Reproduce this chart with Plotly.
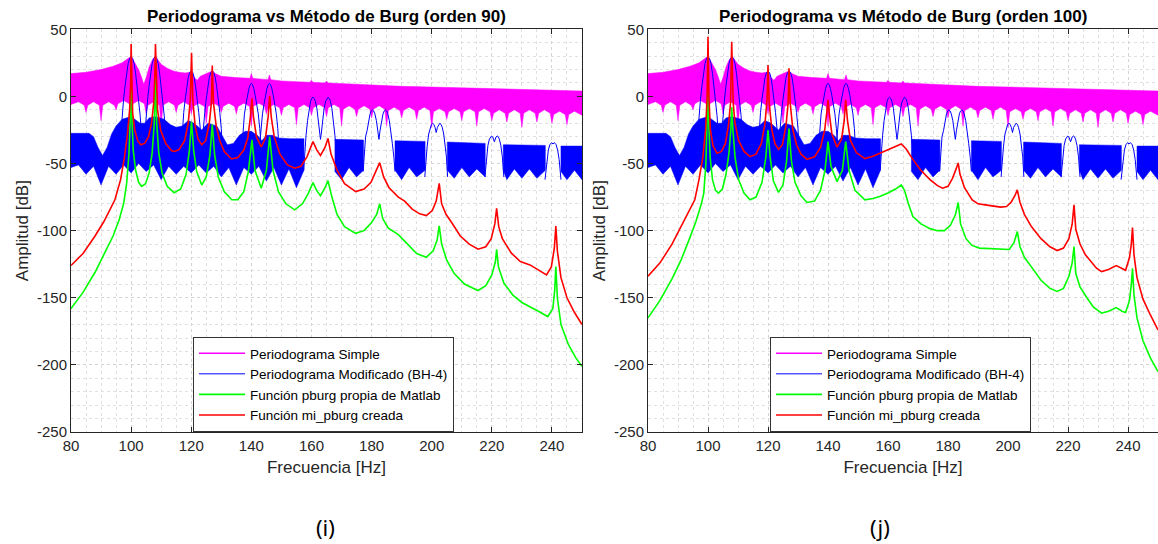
import plotly.graph_objects as go

# ---------------- tick labels ----------------
X_TICKS = [80, 100, 120, 140, 160, 180, 200, 220, 240]
Y_TICKS = [-250, -200, -150, -100, -50, 0, 50]
Y_TICK_TEXT = ["-250", "-200", "-150", "-100", "-50", "0", "50"]

# ---------------- Periodograma Simple (magenta band) ----------------
MAG_HI_F = [80, 85, 90, 94, 97, 99, 100, 101, 102.5, 103.5, 104.2, 105, 106, 107, 108, 109, 110, 112, 114, 116,
            118, 119.5, 120, 121, 122, 123, 125, 127, 128, 130, 135, 139.5, 140, 140.5, 145.5, 146, 146.5, 150, 155, 159.5,
            160, 160.5, 164.5, 165, 165.5, 170, 180, 190, 200, 210, 220, 230, 240, 250]
MAG_HI = [17, 18, 20, 22.5, 25, 28, 30, 26, 20, 14, 9, 14, 22, 27, 30, 27, 24, 21, 19, 18,
          17.5, 18, 19, 14, 12, 15, 17, 19, 17, 15, 14, 13.5, 17, 13.5, 12.5, 16, 12.5, 11.5, 11, 10.5,
          12, 10.5, 10, 11.5, 10, 9.5, 8.5, 7.5, 7, 6.5, 5.5, 5, 4.5, 4]
MAG_LO_F = [80, 82.5,
            84.4, 85, 85.6, 87.5, 89.4, 90, 90.6, 92.5, 94.4, 95, 95.6, 97.5, 99.4, 100, 100.6, 102.5,
            104.4, 105, 105.6, 107.5, 109.4, 110, 110.6, 112.5, 114.4, 115, 115.6, 117.5, 119.4, 120, 120.6, 122.5,
            124.4, 125, 125.6, 127.5, 129.4, 130, 130.6, 132.5, 134.4, 135, 135.6, 137.5, 139.4, 140, 140.6, 142.5,
            144.4, 145, 145.6, 147.5, 149.4, 150, 150.6, 152.5, 154.4, 155, 155.6, 157.5, 159.4, 160, 160.6, 162.5,
            164.4, 165, 165.6, 167.5, 169.4, 170, 170.6, 172.5, 174.4, 175, 175.6, 177.5, 179.4, 180, 180.6, 182.5,
            184.4, 185, 185.6, 187.5, 189.4, 190, 190.6, 192.5, 194.4, 195, 195.6, 197.5, 199.4, 200, 200.6, 202.5,
            204.4, 205, 205.6, 207.5, 209.4, 210, 210.6, 212.5, 214.4, 215, 215.6, 217.5, 219.4, 220, 220.6, 222.5,
            224.4, 225, 225.6, 227.5, 229.4, 230, 230.6, 232.5, 234.4, 235, 235.6, 237.5, 239.4, 240, 240.6, 242.5,
            244.4, 245, 245.6, 247.5, 250]
MAG_LO = [-6, -4,
          -6.5, -12, -6.5, -4, -6.5, -18, -6.5, -4, -6.5, -10, -5.5, -3, -5.5, -12, -5.5, -3,
          -5.5, -13, -6.5, -4, -6.5, -22, -6.5, -4, -6.5, -12, -6.5, -4, -6.5, -13, -7.5, -5,
          -7.5, -20, -7.5, -5, -7.5, -12, -7.5, -5, -7.5, -13, -7.5, -5, -7.5, -22, -7.5, -5,
          -7.5, -13, -8.5, -6, -8.5, -14, -8.5, -6, -8.5, -21, -8.5, -6, -8.5, -14, -8.5, -6,
          -8.5, -15, -8.5, -6, -8.5, -22, -9.5, -7, -9.5, -15, -9.5, -7, -9.5, -16, -9.5, -7,
          -9.5, -22, -10.5, -8, -10.5, -16, -10.5, -8, -10.5, -17, -10.5, -8, -10.5, -23, -11.5, -9,
          -11.5, -17, -11.5, -9, -11.5, -18, -11.5, -9, -11.5, -22, -11.5, -9, -11.5, -18, -12.5, -10,
          -12.5, -19, -12.5, -10, -12.5, -23, -12.5, -10, -12.5, -19, -12.5, -10, -12.5, -20, -13.5, -11,
          -13.5, -21, -13.5, -11, -14]

# ---------------- Periodograma Modificado BH-4 (blue band, segments split by None) ----------------
BLUE_HI_F = [80, 86, 87.5, 89, 90.5, 92, 93.5, 95, 97, 100, 103, 104.5, 106, 108, 111, 113, 115, 117, 119, 121,
             123.5, 125.5, 128.5, 130, 132, 134, 136, 138, 140, 142, 143.5, 145, 147, 149, 153, 157.5, None,
             167.8, 172, 177.3, None,
             187.8, 192, 197.8, None,
             205.2, 212, 217.8, None,
             223.8, 230, 237.8, None,
             243, 250]
BLUE_HI = [-27.5, -27.5, -30, -38, -44, -38, -28, -22, -17, -15, -20, -20, -16, -15, -17, -21, -23, -22, -18, -20,
           -25, -20, -22, -28, -36, -35, -29, -26, -26, -29, -33, -29, -29, -31, -31.5, -31.5, None,
           -32, -32, -32.5, None,
           -33, -33, -33.5, None,
           -34, -34.5, -35, None,
           -36, -36, -36.5, None,
           -37, -37]
BLUE_LO_F = [80, 82.5, 85, 87.5, 90, 92.5, 95, 97.5, 100, 102.5, 105, 107.5, 110, 112.5, 115, 117.5, 120, 122.5,
             125, 127.5, 130, 132.5, 135, 137.5, 140, 142.5, 145, 147.5, 150, 152.5, 155, 157.5, None,
             167.8, 170, 172.5, 175, 177.3, None,
             187.8, 190, 192.5, 195, 197.8, None,
             205.2, 207.5, 210, 212.5, 215, 217.8, None,
             223.8, 225, 227.5, 230, 232.5, 235, 237.8, None,
             243, 245, 247.5, 250]
BLUE_LO = [-53, -51, -58, -52, -66, -52, -58, -51, -57, -50, -56, -51, -62, -52, -58, -52, -57, -51,
           -57, -52, -60, -53, -66, -53, -58, -52, -63, -53, -66, -54, -68, -55, None,
           -56, -62, -53, -60, -55, None,
           -55, -62, -53, -60, -55, None,
           -55, -61, -53, -60, -54, -60, None,
           -55, -62, -54, -61, -54, -61, -55, None,
           -56, -62, -55, -62]

# main lobes of the BH-4 periodogram (outlines, split by None)
LOBE_F = [96.4, 97, 97.5, 98, 98.5, 99, 99.5, 100, 100.5, 101, 101.5, 102, 102.5, 103, 103.6, None,
          104.4, 105, 105.5, 106, 106.5, 107, 107.5, 108, 108.5, 109, 109.5, 110, 110.5, 111, 111.6, None,
          116.6, 117, 117.5, 118, 118.5, 119, 119.5, 120, 120.5, 121, 121.5, 122, 122.5, 123, 123.4, None,
          123.6, 124, 124.5, 125, 125.5, 126, 126.5, 127, 127.5, 128, 128.5, 129, 129.5, 130, 130.4, None,
          136.8, 137.2, 137.7, 138.2, 138.7, 139.2, 139.6, 140, 140.4, 140.8, 141.3, 141.8, 142.3, 142.8, 143.1, None,
          142.9, 143.2, 143.7, 144.2, 144.7, 145.2, 145.6, 146, 146.4, 146.8, 147.3, 147.8, 148.3, 148.8, 149.2, None,
          157.4, 157.8, 158.2, 158.7, 159.2, 159.7, 160.1, 160.5, 160.9, 161.3, 161.8, 162.3, 162.8, 163, 163.2,
          163.7, 164.2, 164.7, 165.1, 165.5, 165.9, 166.3, 166.8, 167.3, 167.8, 168.2, 168.6, None,
          177.2, 177.6, 178, 178.5, 179, 179.5, 179.9, 180.3, 180.7, 181.1, 181.6, 182.1, 182.45, 182.8, 183.3,
          183.8, 184.2, 184.6, 185, 185.4, 185.9, 186.4, 186.9, 187.4, 187.8, None,
          197.7, 198.1, 198.5, 199, 199.5, 199.9, 200.3, 200.7, 201.1, 201.5, 201.9, 202.3, 202.7, 203.1, 203.5,
          204, 204.5, 204.9, 205.3, None,
          217.7, 218.2, 218.7, 219.2, 219.6, 219.9, 220.3, 220.85, 221.4, 221.8, 222.1, 222.5, 223, 223.5, 224, None,
          237.7, 238.3, 238.8, 239.3, 239.9, 240.35, 240.8, 241.4, 241.9, 242.4, 243]
LOBE_V = [-33, -14, -2, 8, 17, 24.5, 28.3, 29.5, 28.3, 24.5, 17, 8, -2, -14, -33, None,
          -33, -14, -2, 8, 17, 24.5, 28.3, 29.5, 28.3, 24.5, 17, 8, -2, -14, -33, None,
          -43, -24, -12, -2, 6.5, 14, 17.8, 19, 17.8, 14, 6.5, -2, -12, -24, -36, None,
          -36, -24, -12, -2, 6.5, 14, 17.8, 19, 17.8, 14, 6.5, -2, -12, -24, -43, None,
          -40, -24, -13, -6, 0.5, 6, 8.6, 9.8, 8.6, 6, 0.5, -6, -13, -24, -33, None,
          -33, -24, -13, -6, 0.5, 6, 8.6, 9.8, 8.6, 6, 0.5, -6, -13, -24, -40, None,
          -55, -40, -29, -18, -9, -3.7, -1.4, -0.6, -1.4, -3.7, -9, -18, -29, -32, -29,
          -18, -9, -3.7, -1.4, -0.6, -1.4, -3.7, -9, -18, -29, -40, -55, None,
          -56, -40, -30, -25.5, -18, -13, -10.8, -10, -10.8, -13, -18, -25.5, -32, -25.5, -18,
          -13, -10.8, -10, -10.8, -13, -18, -25.5, -35, -45, -56, None,
          -60, -45, -37, -28, -23, -20.8, -20, -20.8, -23, -26.9, -23, -20.8, -20, -20.8, -23,
          -28, -37, -45, -60, None,
          -60, -45, -36.5, -31.8, -29.9, -29.5, -30.2, -33.8, -30.2, -29.5, -29.9, -31.8, -36.5, -45, -60, None,
          -62, -47, -40, -36, -34.4, -35.5, -34.4, -36, -40, -47, -62]

# ---------------- Burg order 90 ----------------
G90_F = [80, 84, 88, 91, 94, 96, 97.5, 98.5, 99.3, 99.75, 100, 100.25, 100.7, 101.5, 102.5, 103.5, 104.8, 106, 107,
         107.7, 108.1, 108.5, 109.2, 110.3, 112, 114.3, 116.5, 118.3, 119.4, 120.1, 120.8, 121.8, 123.5, 125, 126.2,
         127, 127.8, 129, 131, 133.5, 135.5, 137.5, 139, 140.2, 141.2, 143.3, 145, 146.1, 147.2, 149, 151.5, 154.4,
         157, 159, 160.5, 161.7, 163, 164.5, 165.5, 166.8, 168.5, 171, 174.7, 177.5, 180, 181.7, 182.7, 183.7, 185.5,
         188.9, 192, 195, 198.2, 200.5, 201.8, 202.5, 203.3, 205, 207.5, 211, 215.4, 218, 220, 221.2, 221.6, 222.2,
         224, 227, 230, 232.7, 235.5, 238.6, 240.3, 240.9, 241.3, 241.8, 243, 245.5, 248, 250]
G90 = [-158, -146, -131, -118, -104, -92, -80, -65, -42, -15, 10, -15, -40, -55, -64, -67, -65, -57, -42,
       -20, 14, -20, -42, -57, -67, -71.7, -69, -58, -40, -18.8, -40, -56, -66, -60, -44,
       -21, -44, -60, -71, -77, -77, -71, -56, -32.4, -55, -68.4, -55, -30, -55, -71, -80, -84.5,
       -80, -72, -64.2, -70, -74, -68, -62.7, -75, -88, -97, -102, -100, -94, -88, -80, -91, -98,
       -103, -110, -117, -119.8, -115, -107, -96.5, -110, -122, -132, -140, -144.6, -141, -133, -123, -114, -127,
       -139, -148, -153.5, -156.5, -160, -164, -158, -145, -126.8, -150, -170, -185, -195, -201]
R90_F = [80, 84, 88, 91, 94.6, 96.5, 97.8, 98.8, 99.5, 99.85, 100, 100.15, 100.5, 101.2, 102.2, 103.2, 104.5, 105.8,
         106.8, 107.5, 107.85, 108.1, 108.35, 108.8, 109.8, 111.5, 113.5, 114.5, 116, 117.8, 119, 119.7, 120.1, 120.5,
         121.3, 122.3, 123.5, 124.8, 126, 126.7, 127, 127.4, 128.3, 129.5, 131, 133.4, 135.5, 137.5, 138.8, 139.7,
         140.2, 140.7, 141.7, 143.3, 144.7, 145.6, 146.1, 146.6, 147.6, 149.5, 152, 154.4, 156.5, 158.5, 160.5, 161.8,
         163, 164.5, 165.5, 166.5, 168.5, 171, 174.7, 177.5, 179.8, 181.3, 182.7, 184, 185.8, 188.9, 191, 193.5, 196,
         198.2, 200.2, 201.5, 202.5, 203.3, 204.8, 206.8, 209.5, 212.5, 215.4, 218, 219.8, 221, 221.6, 222.3, 223.5,
         226.5, 229.5, 232.7, 235.5, 238.2, 239.8, 240.8, 241.3, 241.8, 243, 245, 247.5, 250]
R90 = [-126, -117, -104, -93, -77, -62, -45, -28, -10, 10, 39, 10, -12, -25, -33, -36, -35, -30,
       -20, -5, 12, 39, 12, -10, -25, -35, -40.5, -41, -39.5, -33, -20, -2, 32.6, -2,
       -22, -32, -36, -33, -20, -5, 23, -5, -22, -33, -41, -46.6, -45.5, -40, -31, -15,
       -1.4, -15, -30, -37.7, -31, -15, 0.5, -15, -30, -43, -51, -53.5, -52, -45, -33.7, -40,
       -44, -38, -31.3, -43, -55, -65, -70.9, -69, -64, -57, -49.3, -60, -68, -75, -78, -84, -87.5,
       -88.8, -85, -78, -64.7, -80, -88, -94.5, -104, -110, -113.8, -112, -106, -95, -83.3, -97, -106,
       -116.8, -123, -125.5, -129.5, -133, -127, -113, -96.5, -115, -135, -150, -161, -170]

# ---------------- Burg order 100 ----------------
G100_F = [80, 84, 88, 91, 94, 96, 97.8, 98.6, 99.3, 99.75, 100, 100.25, 100.7, 101.5, 102.5, 103.5, 104.8, 106, 107,
          107.6, 107.9, 108.3, 109, 110.2, 112, 114, 116, 118, 119.3, 120, 120.7, 121.8, 123.5, 125, 126.2, 127,
          127.8, 129, 131, 133, 135.5, 137.5, 139, 140, 141, 143, 144.8, 145.9, 147, 149, 152.3, 155, 157.2, 160,
          162.5, 164.4, 165.5, 166.8, 168.3, 171, 174, 176.5, 178.8, 180.8, 182.5, 183.4, 184.2, 186, 188, 190.5,
          195, 198, 200.4, 202, 203.1, 204, 205.5, 207.8, 211, 214, 216.4, 218.5, 220.3, 221.4, 222, 222.6, 224,
          226.3, 228.5, 231.2, 233.5, 236.1, 238, 239.2, 240.5, 241.1, 241.5, 242, 243, 245, 247.5, 250]
G100 = [-165, -152, -136, -122, -105, -93, -80, -72, -50, -20, 8, -20, -45, -62, -70, -72, -69, -58, -42,
        -25, -8, -25, -45, -62, -72, -77, -75, -64, -45, -25, -45, -63, -71.5, -66, -48, -24,
        -48, -64, -74, -79, -78, -70, -55, -33.7, -52, -63.5, -55, -33.7, -55, -70, -77, -76, -74.5, -72,
        -69, -66, -70, -80, -89.5, -95, -98.5, -100, -100, -96, -88, -79, -95, -106, -111, -113,
        -113.5, -114, -114, -109, -100.7, -112, -120, -127, -137, -143, -145.3, -143, -134, -124, -111.8, -132, -142,
        -150, -157, -161.5, -160, -157.3, -160, -161, -152, -140, -128, -148, -165, -182, -195, -205]
R100_F = [80, 84, 88, 91, 93.5, 95.6, 97, 98.3, 99.2, 99.7, 100, 100.3, 100.8, 101.7, 103, 104.5, 105.8, 106.8,
          107.5, 107.9, 108.4, 109, 110.2, 112, 114, 116, 117.8, 119, 119.7, 120, 120.4, 121.3, 122.3, 123.5, 124.8,
          126, 126.7, 127, 127.4, 128.3, 129.5, 131, 133, 135.5, 137.5, 138.9, 139.7, 140, 140.4, 141.3, 143, 144.5,
          145.4, 145.9, 146.5, 147.5, 149.5, 152.3, 155, 158.5, 161, 163, 164.4, 166, 168, 170.8, 174, 176.5, 178.2,
          180, 181.5, 182.7, 183.4, 184, 185.5, 188, 190, 193, 196, 197.5, 199.5, 201, 202.3, 203.1, 204, 205.5,
          207.8, 211, 214, 216.4, 218.5, 220.3, 221.4, 222, 222.6, 224, 225.8, 227.5, 229.5, 231.2, 233.5, 236.1,
          238, 239.2, 240.5, 241.1, 241.5, 242, 243, 245, 247.5, 250]
R100 = [-134, -124, -110, -97, -85, -77, -62, -45, -25, 0, 44.5, 0, -25, -37, -42.3, -41, -35, -22,
        -5, 40.8, -5, -20, -33, -41, -44.9, -43, -35, -20, -2, 23.4, -5, -25, -35, -39.4, -36,
        -22, -5, 21, -5, -25, -36, -43, -46.8, -45, -38, -25, -10, -2.6, -12, -28, -37.8, -32,
        -18, -2.6, -18, -33, -42, -46.3, -44.5, -41, -39, -37, -35.4, -39, -46, -54.6, -62, -66.5, -68.4,
        -67, -61, -54, -49.6, -58, -68, -77, -80, -81, -82, -82.5, -82, -79, -74, -69.6, -79, -88,
        -97, -106, -112, -114.8, -113, -106, -95, -80.8, -99, -110, -118, -123, -128, -130.5, -129, -126,
        -128, -129.5, -120, -110, -97.7, -118, -135, -151, -163, -174]

# ---------------- styling ----------------
MAGENTA = "#FF00FF"
BLUE = "#0000FF"
GREEN = "#00FF00"
RED = "#FF0000"
AXIS_COLOR = "#262626"
FONT = "Arial, Liberation Sans, sans-serif"
NAMES = ["Periodograma Simple", "Periodograma Modificado (BH-4)",
         "Función pburg propia de Matlab", "Función mi_pburg creada"]

W, H = 1158, 544


def split_none(fs, vs):
    segs, cf, cv = [], [], []
    for f, v in zip(fs, vs):
        if f is None:
            segs.append((cf, cv))
            cf, cv = [], []
        else:
            cf.append(f)
            cv.append(v)
    if cf:
        segs.append((cf, cv))
    return segs


def band_polygon(hf, hv, lf, lv):
    xs, ys = [], []
    for (sf, sv), (tf, tv) in zip(split_none(hf, hv), split_none(lf, lv)):
        xs += sf + tf[::-1] + [sf[0], None]
        ys += sv + tv[::-1] + [sv[0], None]
    return xs, ys


mag_x, mag_y = band_polygon(MAG_HI_F, MAG_HI, MAG_LO_F, MAG_LO)
blu_x, blu_y = band_polygon(BLUE_HI_F, BLUE_HI, BLUE_LO_F, BLUE_LO)

fig = go.Figure()
panels = [("x", "y", "legend", G90_F, G90, R90_F, R90),
          ("x2", "y2", "legend2", G100_F, G100, R100_F, R100)]
for xa, ya, lg, gf, gv, rf, rv in panels:
    fig.add_trace(go.Scatter(x=mag_x, y=mag_y, xaxis=xa, yaxis=ya, mode="lines", fill="toself",
                             fillcolor=MAGENTA, line=dict(color=MAGENTA, width=0.5),
                             showlegend=False, hoverinfo="skip"))
    fig.add_trace(go.Scatter(x=blu_x, y=blu_y, xaxis=xa, yaxis=ya, mode="lines", fill="toself",
                             fillcolor=BLUE, line=dict(color=BLUE, width=0.5),
                             showlegend=False, hoverinfo="skip"))
    fig.add_trace(go.Scatter(x=LOBE_F, y=LOBE_V, xaxis=xa, yaxis=ya, mode="lines",
                             line=dict(color=BLUE, width=1), showlegend=False, hoverinfo="skip"))
    fig.add_trace(go.Scatter(x=gf, y=gv, xaxis=xa, yaxis=ya, mode="lines", name=NAMES[2], legend=lg,
                             legendrank=3, line=dict(color=GREEN, width=1.6)))
    fig.add_trace(go.Scatter(x=rf, y=rv, xaxis=xa, yaxis=ya, mode="lines", name=NAMES[3], legend=lg,
                             legendrank=4, line=dict(color=RED, width=1.6)))
    fig.add_trace(go.Scatter(x=[None], y=[None], xaxis=xa, yaxis=ya, mode="lines", name=NAMES[0],
                             legend=lg, legendrank=1, line=dict(color=MAGENTA, width=1.6)))
    fig.add_trace(go.Scatter(x=[None], y=[None], xaxis=xa, yaxis=ya, mode="lines", name=NAMES[1],
                             legend=lg, legendrank=2, line=dict(color=BLUE, width=1)))

y_bot = (H - 432) / H
y_top = (H - 29.3) / H
grid = dict(showgrid=True, gridcolor="#d4d4d4", griddash="dot", gridwidth=1)


def xaxis(dom, anchor):
    return dict(domain=dom, anchor=anchor, range=[80, 250], tickvals=X_TICKS, ticks="inside", ticklen=5,
                tickcolor=AXIS_COLOR, showline=True, linecolor=AXIS_COLOR, linewidth=1, mirror="ticks",
                zeroline=False, automargin=False,
                title=dict(text="Frecuencia [Hz]", font=dict(size=17, color=AXIS_COLOR), standoff=8),
                tickfont=dict(size=15, color=AXIS_COLOR),
                minor=dict(dtick=5, showgrid=True, gridcolor="#e0e0e0", griddash="dot"), **grid)


def yaxis(anchor, mirror):
    return dict(domain=[y_bot, y_top], anchor=anchor, range=[-250, 50], tickvals=Y_TICKS,
                ticktext=Y_TICK_TEXT, ticks="inside",
                ticklen=5, tickcolor=AXIS_COLOR, showline=True, linecolor=AXIS_COLOR, linewidth=1, mirror=mirror,
                zeroline=False, automargin=False,
                title=dict(text="Amplitud [dB]", font=dict(size=17, color=AXIS_COLOR), standoff=4),
                tickfont=dict(size=15, color=AXIS_COLOR),
                minor=dict(dtick=10, showgrid=True, gridcolor="#e0e0e0", griddash="dot"), **grid)


legend_style = dict(bgcolor="white", bordercolor="#333333", borderwidth=1, font=dict(size=13.5, color="black"),
                    yanchor="top", xanchor="left", traceorder="normal", tracegroupgap=0, itemwidth=46)


def note(text, x, y, size, family=FONT):
    return dict(text=text, x=x / W, y=(H - y) / H, xref="paper", yref="paper", showarrow=False,
                xanchor="center", yanchor="middle", font=dict(size=size, color="black", family=family))


fig.update_layout(
    width=W, height=H, margin=dict(l=0, r=0, t=0, b=0, autoexpand=False),
    paper_bgcolor="white", plot_bgcolor="white",
    font=dict(family=FONT, color=AXIS_COLOR),
    xaxis=xaxis([71 / W, 582 / W], "y"),
    yaxis=yaxis("x", "ticks"),
    xaxis2=xaxis([648 / W, 1.0], "y2"),
    yaxis2=yaxis("x2", False),
    legend=dict(x=193 / W, y=(H - 337) / H, **legend_style),
    legend2=dict(x=770 / W, y=(H - 337) / H, **legend_style),
    annotations=[
        note("<b>Periodograma vs Método de Burg (orden 90)</b>", 326, 16.5, 17),
        note("<b>Periodograma vs Método de Burg (orden 100)</b>", 903, 16.5, 17),
        note("(i)", 325, 527, 22, "Noto Sans, Open Sans, sans-serif"),
        note("(j)", 880, 527, 22, "Noto Sans, Open Sans, sans-serif"),
    ],
)

fig.write_html("out.html")
